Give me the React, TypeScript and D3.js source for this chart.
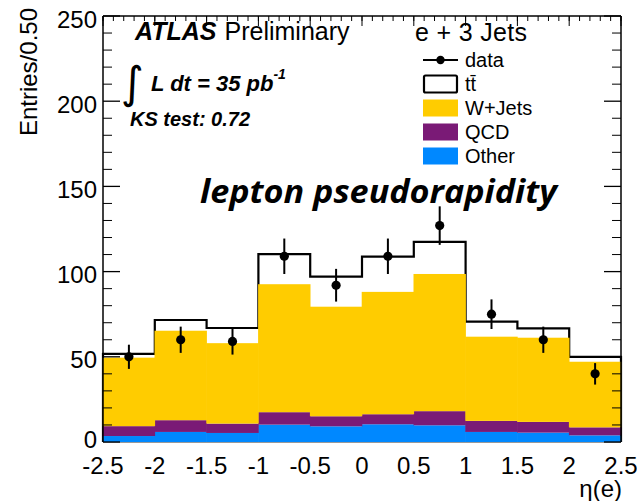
import React from "react";
import * as d3 from "d3";

// Histogram binning in eta(e)
const binEdges = [-2.5, -2, -1.5, -1, -0.5, 0, 0.5, 1, 1.5, 2, 2.5];

// Stacked expectation per bin (entries / 0.50)
const otherVals = [3.5, 5.9, 5.3, 10.2, 9.2, 10.4, 9.8, 5.9, 5.5, 3.9];
const qcdVals = [5.8, 6.9, 5.5, 7.3, 5.9, 5.9, 8.3, 6.5, 6.3, 4.7];
const wjetsVals = [40.2, 52.5, 47.2, 75.1, 64.3, 71.8, 80.5, 49.4, 49.4, 38.5];
const ttbarVals = [2.2, 6.3, 8.9, 17.6, 17.7, 20.7, 18.9, 8.8, 5.5, 2.9];

// Observed data with statistical errors
const dataVals = [50, 60, 59, 109, 92, 109, 127, 75, 60, 40];
const dataErrs = [7.1, 7.7, 7.7, 10.4, 9.6, 10.4, 11.3, 8.7, 7.7, 6.3];

const xTickLabels = ["-2.5", "-2", "-1.5", "-1", "-0.5", "0", "0.5", "1", "1.5", "2", "2.5"];
const yTickValues = [0, 50, 100, 150, 200, 250];

const W = 637;
const H = 501;
const frame = { left: 103, right: 621, top: 16, bottom: 442 };

const COLORS = {
  other: "#0088ff",
  qcd: "#7a1a76",
  wjets: "#ffcc00",
  ttbar: "#ffffff",
};

const FONT = "'Liberation Sans', Arial, Helvetica, sans-serif";

export default function App() {
  const x = d3.scaleLinear().domain([-2.5, 2.5]).range([frame.left, frame.right]);
  const y = d3.scaleLinear().domain([0, 250]).range([frame.bottom, frame.top]);

  const rows = binEdges.slice(0, -1).map((lo, i) => ({
    lo,
    hi: binEdges[i + 1],
    other: otherVals[i],
    qcd: qcdVals[i],
    wjets: wjetsVals[i],
    ttbar: ttbarVals[i],
  }));
  const keys = ["other", "qcd", "wjets", "ttbar"] as const;
  const stack = d3.stack<any>().keys(keys as any)(rows);
  const totals = stack[stack.length - 1].map((d) => d[1]);

  // Step outline of the full expectation (tt̄ on top)
  const outlinePts: [number, number][] = [[binEdges[0], 0]];
  totals.forEach((t, i) => {
    outlinePts.push([binEdges[i], t]);
    outlinePts.push([binEdges[i + 1], t]);
  });
  outlinePts.push([binEdges[binEdges.length - 1], 0]);
  const outline = d3
    .line<[number, number]>()
    .x((d) => x(d[0]))
    .y((d) => y(d[1]))(outlinePts);

  const xMinor = d3.range(-25, 26).map((v) => v / 10);
  const xMajor = binEdges;
  const yMinor = d3.range(0, 251, 10);

  const mid = (i: number) => (binEdges[i] + binEdges[i + 1]) / 2;

  const legendX = 423;
  const legendTextX = 465;
  const legendRows = [60, 84, 108, 132, 156];

  return (
    <svg
      width={W}
      height={H}
      style={{ position: "absolute", left: 0, top: 0, background: "#fff" }}
      fontFamily={FONT}
    >
      <rect x={0} y={0} width={W} height={H} fill="#fff" />

      {/* total expectation: white fill with black outline */}
      <path d={outline ?? ""} fill={COLORS.ttbar} stroke="#000" strokeWidth={2.2} />

      {/* lower stacked components */}
      {stack.slice(0, 3).map((layer, li) => (
        <g key={keys[li]}>
          {layer.map((d, i) => (
            <rect
              key={i}
              x={x(binEdges[i]) - 0.3}
              width={x(binEdges[i + 1]) - x(binEdges[i]) + 0.6}
              y={y(d[1])}
              height={y(d[0]) - y(d[1])}
              fill={COLORS[keys[li]]}
            />
          ))}
        </g>
      ))}

      {/* frame */}
      <line x1={frame.left} x2={frame.right} y1={frame.bottom + 0.5} y2={frame.bottom + 0.5} stroke="#999" strokeWidth={1} />
      <line x1={frame.left} x2={frame.right} y1={frame.top} y2={frame.top} stroke="#000" strokeWidth={1.3} />
      <line x1={frame.left} x2={frame.left} y1={frame.top} y2={frame.bottom} stroke="#000" strokeWidth={1.5} />
      <line x1={frame.right} x2={frame.right} y1={frame.top} y2={frame.bottom} stroke="#000" strokeWidth={1.5} />

      {/* top axis ticks */}
      {xMinor.map((v) => (
        <line key={"tm" + v} x1={x(v)} x2={x(v)} y1={frame.top} y2={frame.top + 5} stroke="#000" strokeWidth={1} />
      ))}
      {xMajor.map((v) => (
        <line key={"tM" + v} x1={x(v)} x2={x(v)} y1={frame.top} y2={frame.top + 10} stroke="#000" strokeWidth={1} />
      ))}

      {/* left and right axis ticks */}
      {yMinor.map((v) => {
        const major = v % 50 === 0;
        const len = major ? 17 : 9;
        return (
          <g key={"y" + v}>
            <line x1={frame.left} x2={frame.left + len} y1={y(v)} y2={y(v)} stroke="#000" strokeWidth={major ? 1.3 : 1} />
            <line x1={frame.right} x2={frame.right - len} y1={y(v)} y2={y(v)} stroke="#000" strokeWidth={major ? 1.3 : 1} />
          </g>
        );
      })}

      {/* data points with error bars */}
      {dataVals.map((v, i) => (
        <g key={"d" + i}>
          <line
            x1={x(mid(i))}
            x2={x(mid(i))}
            y1={y(v - dataErrs[i])}
            y2={y(v + dataErrs[i])}
            stroke="#000"
            strokeWidth={2}
          />
          <circle cx={x(mid(i))} cy={y(v)} r={4.6} fill="#000" />
        </g>
      ))}

      {/* y tick labels */}
      {yTickValues.map((v) => (
        <text
          key={"yl" + v}
          x={97}
          y={y(v) + (v === 0 ? -3 : 3)}
          textAnchor="end"
          dominantBaseline="central"
          fontSize={24}
        >
          {v}
        </text>
      ))}

      {/* x tick labels */}
      {xTickLabels.map((lab, i) => (
        <text key={"xl" + i} x={x(binEdges[i])} y={474} textAnchor="middle" fontSize={24}>
          {lab}
        </text>
      ))}

      {/* axis titles */}
      <text x={622} y={497} textAnchor="end" fontSize={24}>
        η(e)
      </text>
      <text transform="translate(37,8) rotate(-90)" textAnchor="end" fontSize={24}>
        Entries/0.50
      </text>

      {/* labels */}
      <text x={135} y={40} fontSize={25}>
        <tspan fontWeight="bold" fontStyle="italic">ATLAS</tspan>
        <tspan dx={8}>Preliminary</tspan>
      </text>
      <text x={415} y={41} fontSize={25} textLength={112}>
        e + 3 Jets
      </text>
      <text x={121} y={98} fontSize={44} fontFamily="'DejaVu Sans', sans-serif">
        ∫
      </text>
      <text x={151} y={91} fontSize={22} fontWeight="bold" fontStyle="italic">
        L dt = 35 pb
        <tspan fontSize={14} dy={-12}>-1</tspan>
      </text>
      <text x={130} y={126} fontSize={20} fontWeight="bold" fontStyle="italic">
        KS test: 0.72
      </text>
      <text
        x={200}
        y={203}
        fontSize={33}
        fontWeight="bold"
        fontStyle="italic"
        fontFamily="'Open Sans', sans-serif"
        textLength={357}
        lengthAdjust="spacingAndGlyphs"
      >
        lepton pseudorapidity
      </text>

      {/* legend */}
      <line x1={legendX} x2={legendX + 35} y1={legendRows[0]} y2={legendRows[0]} stroke="#000" strokeWidth={2} />
      <circle cx={legendX + 17.5} cy={legendRows[0]} r={4.2} fill="#000" />
      <rect x={legendX + 1} y={legendRows[1] - 8.5} width={33} height={17} fill="#fff" stroke="#000" strokeWidth={2.2} rx={1.5} />
      <rect x={legendX} y={legendRows[2] - 8.5} width={35} height={17} fill={COLORS.wjets} />
      <rect x={legendX} y={legendRows[3] - 8.5} width={35} height={17} fill={COLORS.qcd} />
      <rect x={legendX} y={legendRows[4] - 8.5} width={35} height={17} fill={COLORS.other} />
      {["data", "tt\u0304", "W+Jets", "QCD", "Other"].map((t, i) => (
        <text key={"lg" + i} x={legendTextX} y={legendRows[i]} dominantBaseline="central" fontSize={20}>
          {t}
        </text>
      ))}
    </svg>
  );
}
